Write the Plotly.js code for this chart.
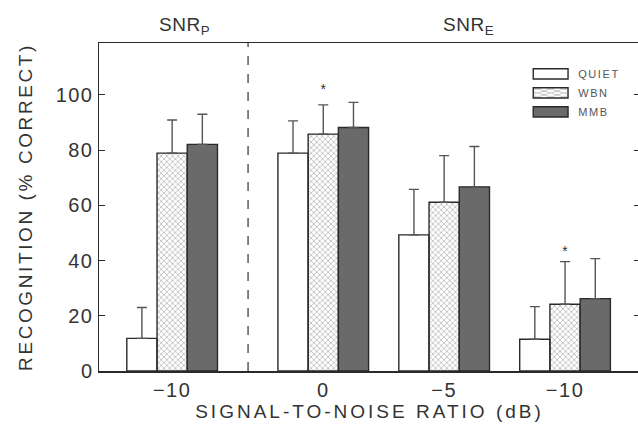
<!DOCTYPE html>
<html>
<head>
<meta charset="utf-8">
<script src="https://cdn.plot.ly/plotly-3.0.1.min.js"></script>
<style>
html,body{margin:0;padding:0;overflow:hidden;background:#fff;}
.xtitle {letter-spacing: 3px;}
.ytitle {letter-spacing: 2.6px;}
.xtick text, .ytick text {letter-spacing: 1.5px;}
.legendtext {letter-spacing: 1.6px;}
.annotation-text {letter-spacing: 0.5px;}
g.legendpoints path {
  transform: translate(27.5px, 0px) scale(2.9, 0.85) !important;
  vector-effect: non-scaling-stroke;
}
</style>
</head>
<body>
<div id="chart"></div>
<script>
// Data
var groupPos = [0, 1.25, 2.25, 3.25];
var tickLabels = ['\u221210', '0', '\u22125', '\u221210'];
var seriesNames = ['QUIET', 'WBN', 'MMB'];
var quiet = [11.8, 78.9, 49.3, 11.5];
var quietErr = [11.2, 11.7, 16.5, 11.8];
var wbn = [78.9, 85.8, 61.1, 24.2];
var wbnErr = [12.0, 10.6, 16.9, 15.4];
var mmb = [82.1, 88.2, 66.7, 26.2];
var mmbErr = [10.9, 9.1, 14.6, 14.5];
var zeros = [0, 0, 0, 0];
var starGroups = [1, 3];     // groups with an asterisk over the WBN bar
var starY = [101.5, 42.8];

var lineCol = '#2a2a2a';
function tr(name, y, err, fill, pattern) {
  return {
    type: 'bar', name: name, x: groupPos, y: y,
    marker: {color: fill, line: {color: lineCol, width: 1.4}, pattern: pattern},
    error_y: {type: 'data', symmetric: false, array: err, arrayminus: zeros,
              color: '#555', thickness: 1.4, width: 5},
    hoverinfo: 'skip'
  };
}
var traces = [
  tr(seriesNames[0], quiet, quietErr, '#ffffff', {shape: ''}),
  tr(seriesNames[1], wbn, wbnErr, '#ffffff', {shape: 'x', fgcolor: '#a8a8a8', size: 4, solidity: 0.3}),
  tr(seriesNames[2], mmb, mmbErr, '#6a6a6a', {shape: ''})
];
traces.push({
  type: 'scatter', mode: 'text', x: starGroups.map(function(i){return groupPos[i];}),
  y: starY, text: starGroups.map(function(){return '*';}),
  textfont: {size: 14, color: '#333', family: 'Liberation Sans, Arial'},
  showlegend: false, hoverinfo: 'skip', cliponaxis: false
});

var font = 'Liberation Sans, Arial, sans-serif';
var layout = {
  width: 642, height: 427,
  margin: {l: 99, r: 2, t: 43, b: 56},
  paper_bgcolor: '#fff', plot_bgcolor: '#fff',
  barmode: 'group', bargap: 0.25, bargroupgap: 0,
  showlegend: true,
  legend: {x: 0.784, y: 0.95, xanchor: 'left', yanchor: 'top', bgcolor: 'rgba(0,0,0,0)',
           font: {family: font, size: 11, color: '#555'}, itemwidth: 45, tracegroupgap: 0},
  font: {family: font, color: '#333'},
  xaxis: {
    range: [-0.605, 3.87], tickmode: 'array', tickvals: groupPos, ticktext: tickLabels,
    ticks: '', showgrid: false, zeroline: false,
    showline: true, linecolor: lineCol, linewidth: 1.5, mirror: true,
    tickfont: {size: 20, color: '#333'},
    title: {text: 'SIGNAL-TO-NOISE RATIO (dB)', font: {size: 19, color: '#333'}, standoff: 5}
  },
  yaxis: {
    range: [0, 118.8], tickvals: [0, 20, 40, 60, 80, 100],
    ticks: 'inside', ticklen: 6, tickcolor: lineCol, showgrid: false, zeroline: false,
    showline: true, linecolor: lineCol, linewidth: 1.5, mirror: 'ticks',
    tickfont: {size: 20, color: '#333'},
    title: {text: 'RECOGNITION (% CORRECT)', font: {size: 19, color: '#333'}, standoff: 18}
  },
  shapes: [{type: 'line', xref: 'x', yref: 'paper', x0: 0.628, x1: 0.628, y0: 0, y1: 1,
            line: {color: '#333', width: 1.2, dash: 'dash'}}],
  annotations: [
    {xref: 'x', yref: 'paper', x: 0.1, y: 1, yanchor: 'bottom', yshift: 3, showarrow: false,
     text: 'SNR<sub>P</sub>', font: {size: 19, color: '#333'}},
    {xref: 'x', yref: 'paper', x: 2.45, y: 1, yanchor: 'bottom', yshift: 3, showarrow: false,
     text: 'SNR<sub>E</sub>', font: {size: 19, color: '#333'}}
  ]
};
Plotly.newPlot('chart', traces, layout, {displayModeBar: false, staticPlot: true});
</script>
</body>
</html>
